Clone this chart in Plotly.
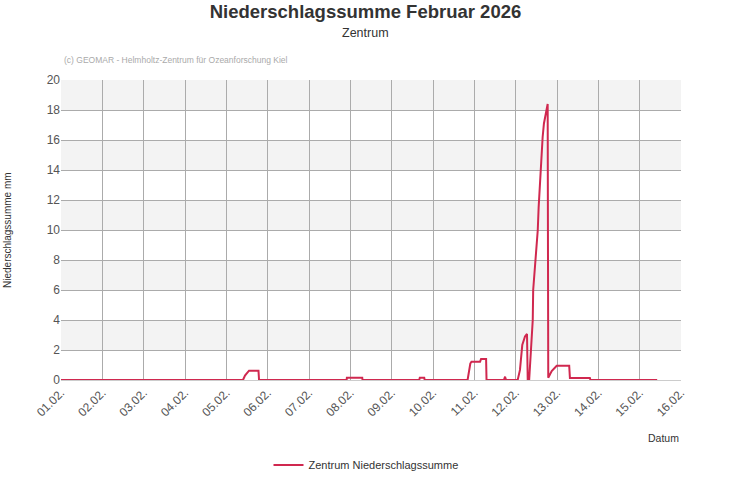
import plotly.graph_objects as go

# Data (timestamps, precipitation sum in mm)
times = [
    "2026-02-01 00:00", "2026-02-05 09:40", "2026-02-05 10:50", "2026-02-05 12:00",
    "2026-02-05 13:10", "2026-02-05 18:40", "2026-02-05 19:00",
    "2026-02-07 21:50", "2026-02-07 22:00", "2026-02-08 06:55", "2026-02-08 07:05",
    "2026-02-09 16:00", "2026-02-09 16:20", "2026-02-09 18:55", "2026-02-09 19:10",
    "2026-02-10 20:05", "2026-02-10 20:55", "2026-02-10 21:40", "2026-02-10 22:20",
    "2026-02-11 03:20", "2026-02-11 03:55", "2026-02-11 06:50", "2026-02-11 07:05",
    "2026-02-11 17:10", "2026-02-11 17:50", "2026-02-11 18:25",
    "2026-02-12 01:10", "2026-02-12 02:30", "2026-02-12 03:50", "2026-02-12 05:25",
    "2026-02-12 06:35", "2026-02-12 07:00", "2026-02-12 07:50",
    "2026-02-12 09:55", "2026-02-12 10:10", "2026-02-12 10:50", "2026-02-12 11:35",
    "2026-02-12 12:10", "2026-02-12 12:50", "2026-02-12 13:20", "2026-02-12 14:05",
    "2026-02-12 15:05", "2026-02-12 15:40", "2026-02-12 16:25", "2026-02-12 17:25",
    "2026-02-12 18:35", "2026-02-12 18:55", "2026-02-12 20:55", "2026-02-12 23:50",
    "2026-02-13 07:05", "2026-02-13 07:30", "2026-02-13 19:05", "2026-02-13 19:25",
    "2026-02-15 10:10",
]
values = [
    0, 0, 0.3, 0.5,
    0.62, 0.62, 0,
    0, 0.15, 0.15, 0,
    0, 0.15, 0.15, 0,
    0, 0.5, 1.1, 1.22,
    1.22, 1.4, 1.4, 0,
    0, 0.22, 0,
    0, 0.67, 2.33, 2.9,
    3.07, 0, 0,
    4, 6, 7, 8,
    9, 10, 11.5, 13.3,
    15.3, 16.2, 17.1, 17.7,
    18.4, 0.15, 0.6, 0.95,
    0.95, 0.13, 0.13, 0,
    0,
]

y_ticks = list(range(0, 21, 2))
x_start = "2026-02-01"
x_end = "2026-02-16"

title_text = "Niederschlagssumme Februar 2026"
subtitle_text = "Zentrum"
credit_text = "(c) GEOMAR - Helmholtz-Zentrum für Ozeanforschung Kiel"
series_name = "Zentrum Niederschlagssumme"
y_title = "Niederschlagssumme mm"
x_title = "Datum"

line_color = "#d0284f"
grid_color = "#ababab"
font_family = "Liberation Sans, Arial, sans-serif"

fig = go.Figure()
fig.add_trace(go.Scatter(
    x=times, y=values, mode="lines", name=series_name,
    line=dict(color=line_color, width=2),
))

# alternating horizontal bands
shapes = []
for i in range(len(y_ticks) - 1):
    if i % 2 == 1:
        shapes.append(dict(
            type="rect", xref="paper", yref="y", x0=0, x1=1,
            y0=y_ticks[i], y1=y_ticks[i + 1],
            fillcolor="#f3f3f3", line=dict(width=0), layer="below",
        ))

fig.update_layout(
    width=731, height=500,
    margin=dict(l=61, r=50, t=80, b=120),
    paper_bgcolor="white", plot_bgcolor="white",
    font=dict(family=font_family, color="#555555", size=11),
    shapes=shapes,
    title=dict(
        text=title_text, x=0.5, xref="container", xanchor="center",
        y=1 - 12 / 500, yref="container", yanchor="middle",
        font=dict(size=18.5, color="#333333", family=font_family, weight="bold"),
    ),
    annotations=[
        dict(text=subtitle_text, xref="paper", yref="paper",
             x=(365.5 - 61) / 620, y=1 + (80 - 33) / 300, showarrow=False,
             xanchor="center", yanchor="middle",
             font=dict(size=12.5, color="#333333")),
        dict(text=credit_text, xref="paper", yref="paper",
             x=1 / 620, y=1 + (80 - 60) / 300, showarrow=False,
             xanchor="left", yanchor="middle",
             font=dict(size=8.5, color="#aaaaaa")),
        dict(text=y_title, xref="paper", yref="paper",
             x=-54 / 620, y=0.5, showarrow=False, textangle=-90,
             xanchor="center", yanchor="middle",
             font=dict(size=10, color="#333333")),
        dict(text=x_title, xref="paper", yref="paper",
             x=1, y=-(438 - 380) / 300, showarrow=False,
             xanchor="right", yanchor="middle",
             font=dict(size=10.5, color="#333333")),
    ],
    showlegend=True,
    legend=dict(
        orientation="h", x=(366 - 61) / 620, xanchor="center",
        y=-(465 - 380) / 300, yanchor="middle",
        font=dict(size=11, color="#333333"),
    ),
    xaxis=dict(
        type="date", range=[x_start, x_end],
        dtick=86400000, tick0=x_start, tickformat="%d.%m.",
        tickangle=-45, showgrid=True, gridcolor=grid_color, gridwidth=1,
        showline=True, linecolor="#cccccc", linewidth=1,
        zeroline=False, ticks="", tickfont=dict(size=12, color="#555555"),
    ),
    yaxis=dict(
        range=[0, 20], tickvals=y_ticks, showgrid=True,
        gridcolor=grid_color, gridwidth=1, zeroline=False,
        ticks="", tickfont=dict(size=12, color="#555555"),
    ),
)

fig.write_html("out.html", config={"displayModeBar": False},
               post_script="document.body.style.margin='0';")
